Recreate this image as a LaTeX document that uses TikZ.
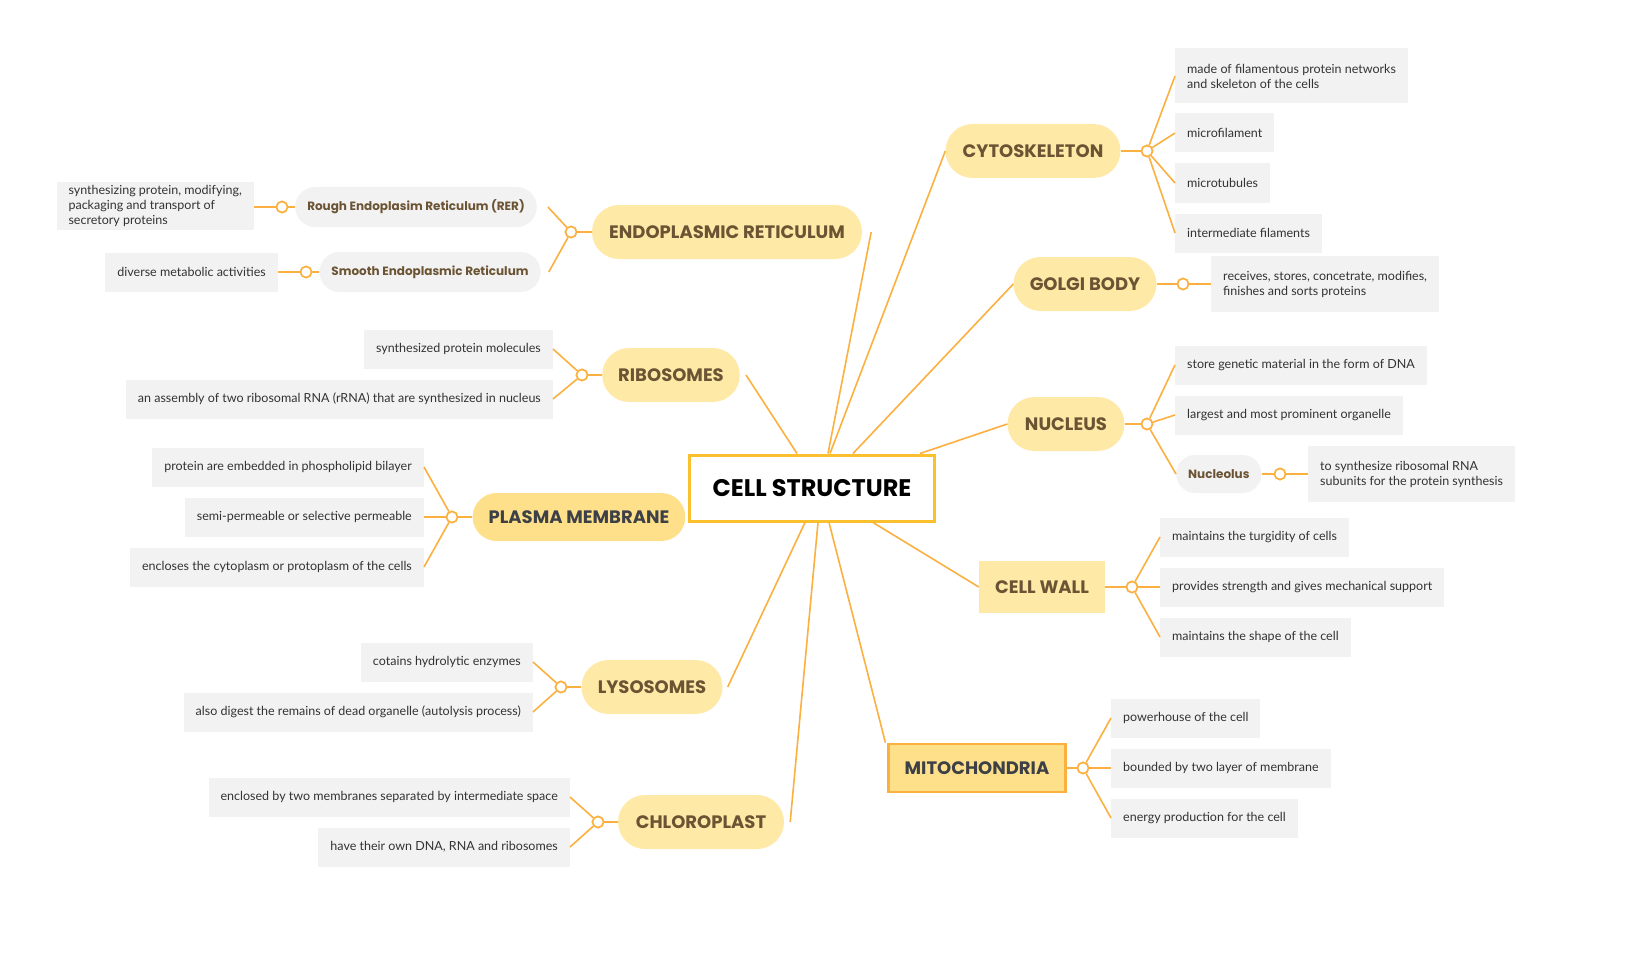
\documentclass[tikz,border=0pt]{standalone}
\usepackage{fontspec}
\setmainfont{Lato}
\newfontfamily\headfont{Poppins}
\definecolor{ln}{HTML}{FBB040}
\definecolor{topicfill}{HTML}{FFE9A6}
\definecolor{hifill}{HTML}{FFE08A}
\definecolor{brown}{HTML}{6B5434}
\definecolor{dark}{HTML}{3D4147}
\definecolor{leaffill}{HTML}{F2F2F2}
\definecolor{leaftext}{HTML}{333333}
\definecolor{mainline}{HTML}{FBC02D}
\begin{document}
\begin{tikzpicture}[x=1pt,y=-1pt,
 conn/.style={draw=ln,line width=1.6pt},
 junc/.style={circle,draw=ln,line width=1.6pt,fill=white,inner sep=0pt,minimum size=11pt},
 topic/.style={fill=topicfill,rounded corners=27pt,text=brown,font=\headfont\bfseries\fontsize{18}{20}\selectfont,minimum height=54pt,inner xsep=16pt},
 sub/.style={fill=leaffill,rounded corners=20pt,text=brown,font=\headfont\bfseries\fontsize{12}{14}\selectfont,minimum height=40pt,inner xsep=12pt},
 leaf/.style={fill=leaffill,text=leaftext,font=\fontsize{12.5}{15}\selectfont,minimum height=39pt,inner xsep=12pt,align=left}]
\useasboundingbox (0,0) rectangle (1634,955);
\fill[white] (0,0) rectangle (1634,955);
\node[draw=mainline,line width=3pt,fill=white,minimum width=245pt,minimum height=66pt,font=\headfont\bfseries\fontsize{24}{26}\selectfont] (c) at (812,488) {CELL STRUCTURE};
\node[topic,minimum width=270pt] (er) at (727,232) {ENDOPLASMIC RETICULUM};
\node[topic,minimum width=136pt] (rib) at (671,375) {RIBOSOMES};
\node[topic,fill=hifill,text=dark,minimum width=206pt,minimum height=48pt,rounded corners=24pt] (pm) at (579,517) {PLASMA MEMBRANE};
\node[topic,minimum width=141pt] (lys) at (652,687) {LYSOSOMES};
\node[topic,minimum width=166pt] (chl) at (701,822) {CHLOROPLAST};
\node[topic,minimum width=175pt] (cyt) at (1033,151) {CYTOSKELETON};
\node[topic,minimum width=143pt] (gol) at (1085,284) {GOLGI BODY};
\node[topic,minimum width=117pt] (nuc) at (1066,424) {NUCLEUS};
\node[topic,rounded corners=0pt,minimum width=126pt,minimum height=52pt] (cw) at (1042,587) {CELL WALL};
\node[topic,rounded corners=0pt,fill=hifill,text=dark,draw=ln,line width=2.5pt,minimum width=169pt,minimum height=48pt] (mit) at (977,768) {MITOCHONDRIA};
\draw[conn] ([xshift=16pt]c.north) -- ([xshift=9pt]er.east);
\draw[conn] ([xshift=-15pt]c.north) -- ([xshift=6pt]rib.east);
\draw[conn] ([xshift=-7pt]c.south) -- ([xshift=5pt]lys.east);
\draw[conn] ([xshift=6pt]c.south) -- ([xshift=6pt]chl.east);
\draw[conn] ([xshift=17pt]c.south) -- ([xshift=-2pt]mit.north west);
\draw[conn] ([xshift=61pt]c.south) -- (cw.west);
\draw[conn] ([xshift=108pt]c.north) -- (nuc.west);
\draw[conn] ([xshift=41pt]c.north) -- (gol.west);
\draw[conn] ([xshift=18pt]c.north) -- (cyt.west);
% ER
\node[sub] (rer) at (416,207) {Rough Endoplasim Reticulum (RER)};
\node[sub] (ser) at (430,272) {Smooth Endoplasmic Reticulum};
\node[leaf,anchor=east] (l1) at (254,206) {synthesizing protein, modifying,\\packaging and transport of\\secretory proteins};
\node[leaf,anchor=east] (l2) at (278,272) {diverse metabolic activities};
\node[junc] (jer) at (571,232) {};
\draw[conn] (jer) -- (er.west);
\draw[conn] (jer) -- ([xshift=11pt]rer.east);
\draw[conn] (jer) -- ([xshift=8pt]ser.east);
\node[junc] (jrer) at (282,207) {};
\draw[conn] (rer.west) -- (jrer) -- (l1.east |- jrer);
\node[junc] (jser) at (306,272) {};
\draw[conn] (ser.west) -- (jser) -- (l2.east);
% Ribosomes
\node[leaf,anchor=east] (r1) at (553,349) {synthesized protein molecules};
\node[leaf,anchor=east] (r2) at (553,399) {an assembly of two ribosomal RNA (rRNA) that are synthesized in nucleus};
\node[junc] (jrib) at (582,375) {};
\draw[conn] (rib.west) -- (jrib);
\draw[conn] (jrib) -- (r1.east); \draw[conn] (jrib) -- (r2.east);
% Plasma membrane
\node[leaf,anchor=east] (p1) at (424,467) {protein are embedded in phospholipid bilayer};
\node[leaf,anchor=east] (p2) at (424,517) {semi-permeable or selective permeable};
\node[leaf,anchor=east] (p3) at (424,567) {encloses the cytoplasm or protoplasm of the cells};
\node[junc] (jpm) at (452,517) {};
\draw[conn] (pm.west) -- (jpm);
\draw[conn] (jpm) -- (p1.east); \draw[conn] (jpm) -- (p2.east); \draw[conn] (jpm) -- (p3.east);
% Lysosomes
\node[leaf,anchor=east] (y1) at (533,662) {cotains hydrolytic enzymes};
\node[leaf,anchor=east] (y2) at (533,712) {also digest the remains of dead organelle (autolysis process)};
\node[junc] (jlys) at (561,687) {};
\draw[conn] (lys.west) -- (jlys);
\draw[conn] (jlys) -- (y1.east); \draw[conn] (jlys) -- (y2.east);
% Chloroplast
\node[leaf,anchor=east] (h1) at (570,797) {enclosed by two membranes separated by intermediate space};
\node[leaf,anchor=east] (h2) at (570,847) {have their own DNA, RNA and ribosomes};
\node[junc] (jchl) at (598,822) {};
\draw[conn] (chl.west) -- (jchl);
\draw[conn] (jchl) -- (h1.east); \draw[conn] (jchl) -- (h2.east);
% Cytoskeleton
\node[leaf,anchor=west,minimum height=55pt] (k1) at (1175,76) {made of filamentous protein networks\\and skeleton of the cells};
\node[leaf,anchor=west] (k2) at (1175,133) {microfilament};
\node[leaf,anchor=west] (k3) at (1175,183) {microtubules};
\node[leaf,anchor=west] (k4) at (1175,233) {intermediate filaments};
\node[junc] (jcyt) at (1147,151) {};
\draw[conn] (cyt.east) -- (jcyt);
\foreach \n in {k1,k2,k3,k4} \draw[conn] (jcyt) -- (\n.west);
% Golgi
\node[leaf,anchor=west,minimum height=56pt] (g1) at (1211,284) {receives, stores, concetrate, modifies,\\finishes and sorts proteins};
\node[junc] (jgol) at (1183,284) {};
\draw[conn] (gol.east) -- (jgol) -- (g1.west);
% Nucleus
\node[leaf,anchor=west] (n1) at (1175,365) {store genetic material in the form of DNA};
\node[leaf,anchor=west] (n2) at (1175,415) {largest and most prominent organelle};
\node[sub,anchor=west,minimum height=38pt,rounded corners=19pt] (nl) at (1176,474) {Nucleolus};
\node[leaf,anchor=west,minimum height=56pt] (n3) at (1308,474) {to synthesize ribosomal RNA\\subunits for the protein synthesis};
\node[junc] (jnuc) at (1147,424) {};
\draw[conn] (nuc.east) -- (jnuc);
\draw[conn] (jnuc) -- (n1.west); \draw[conn] (jnuc) -- (n2.west); \draw[conn] (jnuc) -- (nl.west);
\node[junc] (jnl) at (1280,474) {};
\draw[conn] (nl.east) -- (jnl) -- (n3.west);
% Cell wall
\node[leaf,anchor=west] (w1) at (1160,537) {maintains the turgidity of cells};
\node[leaf,anchor=west] (w2) at (1160,587) {provides strength and gives mechanical support};
\node[leaf,anchor=west] (w3) at (1160,637) {maintains the shape of the cell};
\node[junc] (jcw) at (1132,587) {};
\draw[conn] (cw.east) -- (jcw);
\foreach \n in {w1,w2,w3} \draw[conn] (jcw) -- (\n.west);
% Mitochondria
\node[leaf,anchor=west] (m1) at (1111,718) {powerhouse of the cell};
\node[leaf,anchor=west] (m2) at (1111,768) {bounded by two layer of membrane};
\node[leaf,anchor=west] (m3) at (1111,818) {energy production for the cell};
\node[junc] (jmit) at (1083,768) {};
\draw[conn] (mit.east) -- (jmit);
\foreach \n in {m1,m2,m3} \draw[conn] (jmit) -- (\n.west);
\foreach \j in {jer,jrer,jser,jrib,jpm,jlys,jchl,jcyt,jgol,jnuc,jnl,jcw,jmit}
  \node[junc] at (\j) {};
\end{tikzpicture}
\end{document}
